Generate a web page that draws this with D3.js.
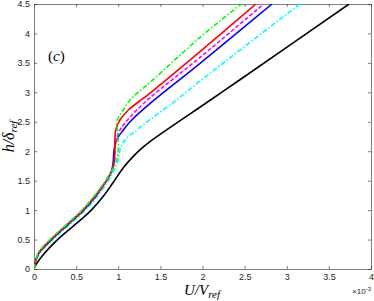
<!DOCTYPE html>
<html>
<head>
<meta charset="utf-8">
<script src="https://cdn.jsdelivr.net/npm/d3@7"></script>
<style>
  body { margin: 0; background: #fff; }
  svg { display: block; }
  .tick text { font-family: "Liberation Sans", Arial, sans-serif; font-size: 9px; fill: #262626; }
  .math { font-family: "Liberation Serif", "DejaVu Serif", serif; font-style: italic; fill: #000; }
</style>
</head>
<body>
<div id="container"></div>
<script>
// U / V_ref (x 1e-3) and h / delta_ref
const blackU   = [0, 0.01, 0.09, 0.28, 0.55, 0.68, 0.82, 0.935, 1.06, 1.17, 1.27, 1.373, 2.095, 2.44, 3.74];
const blackH   = [0, 0.04, 0.21, 0.50, 0.83, 1.00, 1.23, 1.46, 1.72, 1.90, 2.04, 2.16, 2.87, 3.21, 4.50];
const blueU    = [0, 0.05, 0.21, 0.40, 0.59, 0.74, 0.86, 0.92, 0.94, 0.95, 0.98, 1.06, 1.16, 1.41, 1.96, 2.825];
const blueH    = [0, 0.25, 0.50, 0.75, 1.00, 1.25, 1.50, 1.66, 1.82, 2.02, 2.19, 2.36, 2.53, 2.85, 3.48, 4.50];
const redU     = [0, 0.05, 0.20, 0.39, 0.58, 0.73, 0.86, 0.92, 0.95, 0.96, 0.96, 0.97, 1.02, 1.12, 1.27, 1.37, 1.96, 2.635];
const redH     = [0, 0.26, 0.50, 0.75, 1.00, 1.25, 1.50, 1.66, 1.80, 1.98, 2.19, 2.36, 2.53, 2.70, 2.87, 2.98, 3.68, 4.50];
const magentaU = [0, 0.05, 0.20, 0.39, 0.58, 0.73, 0.86, 0.92, 0.95, 0.96, 0.97, 1.02, 1.16, 1.37, 1.96, 2.726];
const magentaH = [0, 0.26, 0.50, 0.75, 1.00, 1.25, 1.50, 1.66, 1.80, 1.98, 2.15, 2.36, 2.61, 2.90, 3.58, 4.50];
const cyanU    = [0, 0.06, 0.22, 0.42, 0.61, 0.76, 0.88, 0.95, 1.00, 1.02, 1.08, 1.22, 1.37, 1.70, 1.96, 3.156];
const cyanH    = [0, 0.25, 0.50, 0.75, 1.00, 1.25, 1.50, 1.68, 1.85, 2.02, 2.19, 2.36, 2.53, 2.88, 3.18, 4.50];
const greenU   = [0, 0.05, 0.19, 0.38, 0.57, 0.72, 0.85, 0.93, 0.98, 1.00, 1.00, 0.99, 0.99, 1.06, 1.14, 1.41, 1.96, 2.46];
const greenH   = [0, 0.27, 0.50, 0.75, 1.00, 1.25, 1.50, 1.68, 1.85, 2.02, 2.19, 2.36, 2.53, 2.70, 2.87, 3.21, 3.92, 4.50];

const xTicks = [0, 0.5, 1, 1.5, 2, 2.5, 3, 3.5, 4];
const yTicks = [0, 0.5, 1, 1.5, 2, 2.5, 3, 3.5, 4, 4.5];

const width = 374, height = 301;
const margin = { top: 4, right: 3, bottom: 32, left: 34 };
const innerW = width - margin.left - margin.right;
const innerH = height - margin.top - margin.bottom;

const series = [
    { u: blackU,   h: blackH,   color: '#000000', dash: null },
    { u: cyanU,    h: cyanH,    color: '#00ffff', dash: '5,2,1.5,2' },
    { u: blueU,    h: blueH,    color: '#0000ff', dash: null },
    { u: magentaU, h: magentaH, color: '#ff00ff', dash: '4,2' },
    { u: redU,     h: redH,     color: '#ff0000', dash: null },
    { u: greenU,   h: greenH,   color: '#00ff00', dash: '5,2,1.5,2' }
];

const svg = d3.select('#container').append('svg')
    .attr('width', width)
    .attr('height', height);

const g = svg.append('g')
    .attr('transform', `translate(${margin.left},${margin.top})`);

const x = d3.scaleLinear().domain([0, 4]).range([0, innerW]);
const y = d3.scaleLinear().domain([0, 4.5]).range([innerH, 0]);

// axes (box on, ticks inward)
function styleAxis(sel) {
    sel.select('.domain').attr('stroke', '#262626').attr('stroke-width', 0.6);
    sel.selectAll('.tick line').attr('stroke', '#262626').attr('stroke-width', 0.6);
}

g.append('g')
    .attr('transform', `translate(0,${innerH})`)
    .call(d3.axisBottom(x).tickValues(xTicks).tickFormat(d3.format('')).tickSizeInner(-3).tickSizeOuter(0).tickPadding(5))
    .call(styleAxis);

g.append('g')
    .call(d3.axisTop(x).tickValues(xTicks).tickFormat('').tickSizeInner(-3).tickSizeOuter(0))
    .call(styleAxis);

g.append('g')
    .call(d3.axisLeft(y).tickValues(yTicks).tickFormat(d3.format('')).tickSizeInner(-3).tickSizeOuter(0).tickPadding(4))
    .call(styleAxis);

g.append('g')
    .attr('transform', `translate(${innerW},0)`)
    .call(d3.axisRight(y).tickValues(yTicks).tickFormat('').tickSizeInner(-3).tickSizeOuter(0))
    .call(styleAxis);

const line = d3.line()
    .x(d => x(d[0]))
    .y(d => y(d[1]))
    .curve(d3.curveCatmullRom.alpha(0.5));

g.append('defs').append('clipPath').attr('id', 'clip')
    .append('rect').attr('width', innerW).attr('height', innerH);

g.append('g').attr('clip-path', 'url(#clip)')
    .selectAll('path')
    .data(series)
    .join('path')
    .attr('d', s => line(s.u.map((u, i) => [u, s.h[i]])))
    .attr('fill', 'none')
    .attr('stroke', s => s.color)
    .attr('stroke-width', 1.6)
    .attr('stroke-dasharray', s => s.dash);

// exponent label
const expo = svg.append('text')
    .attr('x', width - 3)
    .attr('y', 294)
    .attr('text-anchor', 'end')
    .style('font-family', '"Liberation Sans", Arial, sans-serif')
    .style('font-size', '8px')
    .style('fill', '#262626');
expo.append('tspan').text('\u00d710');
expo.append('tspan').attr('dy', -3).style('font-size', '6px').text('-3');

// x label
const xl = svg.append('text')
    .attr('class', 'math')
    .attr('x', 202)
    .attr('y', 295)
    .attr('text-anchor', 'middle')
    .style('font-size', '15px');
xl.append('tspan').text('U/V');
xl.append('tspan').attr('dy', 3).style('font-size', '11px').text('ref');

// y label
const yl = svg.append('text')
    .attr('class', 'math')
    .attr('transform', `translate(14,${margin.top + innerH / 2}) rotate(-90)`)
    .attr('text-anchor', 'middle')
    .style('font-size', '16px');
yl.append('tspan').text('h/\u03b4');
yl.append('tspan').attr('dy', 3).style('font-size', '11px').text('ref');

// panel tag
const tag = svg.append('text')
    .attr('x', 48)
    .attr('y', 61)
    .style('font-family', '"Liberation Serif", "DejaVu Serif", serif')
    .style('font-size', '15px');
tag.append('tspan').text('(');
tag.append('tspan').style('font-style', 'italic').text('c');
tag.append('tspan').text(')');
</script>
</body>
</html>
